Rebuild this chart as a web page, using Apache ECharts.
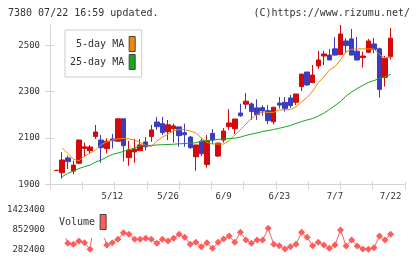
<!DOCTYPE html>
<html style="height: 100%">
<head>
    <meta charset="utf-8">
</head>
<body style="height: 100%; margin: 0">
    <div id="container" style="width: 420px; height: 259px"></div>

    <script type="text/javascript" src="https://cdn.jsdelivr.net/npm/echarts@6.0.0/dist/echarts.min.js"></script>
    <script type="text/javascript">
        // trading days shown on the chart
        var dates = [
            '4/23','4/24','4/25','4/28','4/30','5/1','5/2','5/7','5/8','5/9',
            '5/12','5/13','5/14','5/15','5/16','5/19','5/20','5/21','5/22','5/23',
            '5/26','5/27','5/28','5/29','5/30','6/2','6/3','6/4','6/5','6/6',
            '6/9','6/10','6/11','6/12','6/13','6/16','6/17','6/18','6/19','6/20',
            '6/23','6/24','6/25','6/26','6/27','6/30','7/1','7/2','7/3','7/4',
            '7/7','7/8','7/9','7/10','7/11','7/14','7/15','7/16','7/17','7/18',
            '7/22'
        ];
        var opens = [1960,1950,2014,1957,1991,2055,2045,2106,2091,2054,
                     2096,2086,2183,2015,2040,2045,2083,2106,2169,2162,
                     2127,2140,2148,2123,2104,2019,2086,1985,2120,2022,
                     2091,2149,2140,2208,2246,2247,2230,2231,2218,2170,
                     2251,2254,2273,2254,2322,2385,2339,2411,2454,2458,
                     2485,2460,2519,2528,2475,2447,2470,2506,2485,2362,
                     2451];
        var closes = [1960,2005,1998,1983,2091,2062,2061,2126,2058,2086,
                      2088,2183,2067,2048,2052,2070,2062,2135,2149,2123,
                      2157,2152,2110,2114,2058,2070,2032,2087,2091,2078,
                      2130,2165,2182,2196,2259,2214,2201,2217,2175,2233,
                      2242,2228,2240,2290,2376,2329,2372,2437,2463,2437,
                      2458,2549,2499,2458,2437,2454,2519,2483,2310,2444,
                      2531];
        var lows = [1958,1924,1966,1944,1988,2019,2034,2096,1993,2034,
                    2055,2086,1998,1980,1993,2045,2047,2084,2135,2113,
                    2091,2080,2062,2062,2054,1958,2022,1972,2074,2018,
                    2080,2135,2117,2191,2225,2178,2178,2196,2160,2159,
                    2228,2214,2230,2243,2303,2326,2339,2399,2415,2437,
                    2456,2460,2466,2458,2434,2404,2466,2466,2274,2322,
                    2439];
        var highs = [1962,2039,2024,2002,2094,2080,2070,2156,2113,2099,
                     2117,2183,2183,2087,2096,2096,2104,2156,2191,2191,
                     2178,2162,2148,2162,2109,2070,2096,2113,2139,2078,
                     2143,2225,2182,2248,2294,2254,2267,2242,2242,2233,
                     2277,2277,2286,2290,2376,2385,2415,2476,2476,2484,
                     2536,2588,2531,2571,2536,2473,2528,2532,2490,2454,
                     2575];
        var ma5 = ['-',2057,2033,2009,2001,2022,2035,2048,2072,2083,
                   2091,2096,2098,2096,2091,2081,2068,2063,2087,2104,
                   2117,2132,2136,2136,2130,2122,2100,2081,2074,2074,
                   2074,2089,2113,2135,2160,2184,2202,2212,2210,2211,
                   2221,2222,2223,2234,2256,2275,2303,2338,2364,2394,
                   2408,2437,2472,2483,2485,2485,2485,2485,2459,2446,
                   2450];
        var ma25 = ['-',1933,1947,1957,1968,1976,1983,1996,2005,2018,
                    2029,2035,2042,2050,2057,2066,2068,2068,2070,2071,
                    2072,2073,2075,2076,2078,2079,2087,2089,2091,2094,
                    2096,2098,2099,2104,2111,2117,2122,2128,2132,2137,
                    2142,2148,2154,2163,2171,2178,2184,2195,2207,2223,
                    2240,2258,2281,2299,2314,2327,2340,2348,2357,2365,
                    2375];
        var volumes = ['-',861000,453600,425000,519200,470700,282400,1423400,890000,405000,
                       470700,567700,756000,710000,567700,567700,596000,567700,453600,567700,
                       519000,596000,710000,624700,425000,482000,356600,470700,311000,482000,
                       576200,661800,482000,767300,547700,453600,547700,547700,881400,425000,
                       385100,291000,356600,425000,767300,624700,385100,482000,405000,311000,
                       405000,833000,376500,547700,376500,291000,282400,328000,661800,547700,
                       710300];
        var priceTicks = [1900, 2100, 2300, 2500];
        var volumeTicks = [282400, 852900, 1423400];

        var candles = [];
        for (var i = 0; i < dates.length; i++) {
            candles.push([opens[i], closes[i], lows[i], highs[i]]);
        }

        var font = '"DejaVu Sans Mono", monospace';
        var axisGray = '#d4d4d4';
        var textGray = '#333';
        var plain = function (v) { return String(v); };

        var dom = document.getElementById("container");
        var myChart = echarts.init(dom, null, {renderer: 'canvas'});
        var option = {
            animation: false,
            backgroundColor: '#fff',
            textStyle: {fontFamily: font},
            title: [
                {text: '7380 07/22 16:59 updated.', left: 8, top: 8, padding: 0,
                 textStyle: {fontSize: 10, fontWeight: 'normal', fontFamily: font, color: textGray}},
                {text: '(C)https://www.rizumu.net/', right: 10, top: 8, padding: 0,
                 textStyle: {fontSize: 10, fontWeight: 'normal', fontFamily: font, color: textGray}}
            ],
            legend: [
                {
                    data: ['5-day MA', '25-day MA'],
                    orient: 'vertical', align: 'right',
                    left: 65, top: 30,
                    padding: [6, 6, 7, 5], itemGap: 2,
                    itemWidth: 6, itemHeight: 15,
                    icon: 'rect',
                    itemStyle: {borderColor: '#444', borderWidth: 1},
                    backgroundColor: '#fff', borderColor: '#ccc', borderWidth: 1,
                    textStyle: {fontSize: 10, fontFamily: font, color: textGray}
                },
                {
                    data: ['Volume'],
                    orient: 'vertical', align: 'right',
                    left: 55, top: 203,
                    padding: [11, 4, 8, 4],
                    itemWidth: 6, itemHeight: 15,
                    icon: 'rect',
                    itemStyle: {borderColor: '#444', borderWidth: 1},
                    backgroundColor: '#fff',
                    textStyle: {fontSize: 10, fontFamily: font, color: textGray}
                }
            ],
            grid: [
                {left: 50, right: 15, top: 25, bottom: 74.7},
                {left: 53.9, right: 26.6, top: 25, bottom: 74.7},
                {left: 53.9, right: 26.6, top: 209.3, bottom: 9.7}
            ],
            xAxis: [
                {type: 'value', gridIndex: 0, position: 'bottom', min: 0, max: 11, interval: 1,
                 axisLine: {lineStyle: {color: axisGray}},
                 axisTick: {length: 5, lineStyle: {color: axisGray}},
                 axisLabel: {show: false}, splitLine: {show: false}},
                {type: 'value', gridIndex: 0, position: 'bottom', min: 0, max: 11, interval: 1,
                 axisLine: {show: false},
                 axisTick: {inside: true, length: 3, lineStyle: {color: axisGray}},
                 axisLabel: {show: false}, splitLine: {show: false}},
                {type: 'category', gridIndex: 1, data: dates, boundaryGap: true,
                 axisLine: {show: false}, axisTick: {show: false},
                 axisLabel: {
                     fontSize: 9, fontFamily: font, color: textGray, margin: 8,
                     interval: function (idx) { return idx > 0 && idx % 10 === 0; }
                 }},
                {type: 'category', gridIndex: 2, data: dates, boundaryGap: true, show: false}
            ],
            yAxis: [
                {type: 'value', gridIndex: 0, min: 1900, max: 2588,
                 axisLine: {show: true, lineStyle: {color: axisGray}},
                 axisTick: {show: true, length: 5, customValues: priceTicks, lineStyle: {color: axisGray}},
                 axisLabel: {customValues: priceTicks, formatter: plain, fontSize: 9, fontFamily: font, color: textGray, margin: 10},
                 splitLine: {show: false}},
                {type: 'value', gridIndex: 0, min: 1900, max: 2588, position: 'left',
                 axisLine: {show: false},
                 axisTick: {show: true, inside: true, length: 4, customValues: priceTicks, lineStyle: {color: axisGray}},
                 axisLabel: {show: false}, splitLine: {show: false}},
                {type: 'value', gridIndex: 1, min: 1900, max: 2588, show: false},
                {type: 'value', gridIndex: 2, min: 282400, max: 1423400,
                 axisLine: {show: false}, axisTick: {show: false}, splitLine: {show: false},
                 axisLabel: {customValues: volumeTicks, formatter: plain, fontSize: 9, fontFamily: font, color: textGray, margin: 9}}
            ],
            series: [
                {
                    name: 'price', type: 'candlestick',
                    xAxisIndex: 2, yAxisIndex: 2,
                    barWidth: 5,
                    itemStyle: {color: '#d40a0a', color0: '#3c3cbe', borderColor: '#d40a0a', borderColor0: '#3c3cbe', borderWidth: 1},
                    data: candles
                },
                {
                    name: '5-day MA', type: 'line',
                    xAxisIndex: 2, yAxisIndex: 2,
                    showSymbol: false, symbol: 'none',
                    color: '#f08a00',
                    lineStyle: {width: 1, color: '#f08a00'},
                    data: ma5
                },
                {
                    name: '25-day MA', type: 'line',
                    xAxisIndex: 2, yAxisIndex: 2,
                    showSymbol: false, symbol: 'none',
                    color: '#1aa51a',
                    lineStyle: {width: 1, color: '#1aa51a'},
                    data: ma25
                },
                {
                    name: 'Volume', type: 'line',
                    xAxisIndex: 3, yAxisIndex: 3,
                    symbol: 'diamond', symbolSize: 7,
                    showAllSymbol: true,
                    clip: false,
                    color: '#ff5c5c',
                    lineStyle: {width: 1, color: '#ff5c5c'},
                    itemStyle: {color: '#ff5c5c'},
                    data: volumes
                }
            ]
        };
        myChart.setOption(option);
    </script>
</body>
</html>
